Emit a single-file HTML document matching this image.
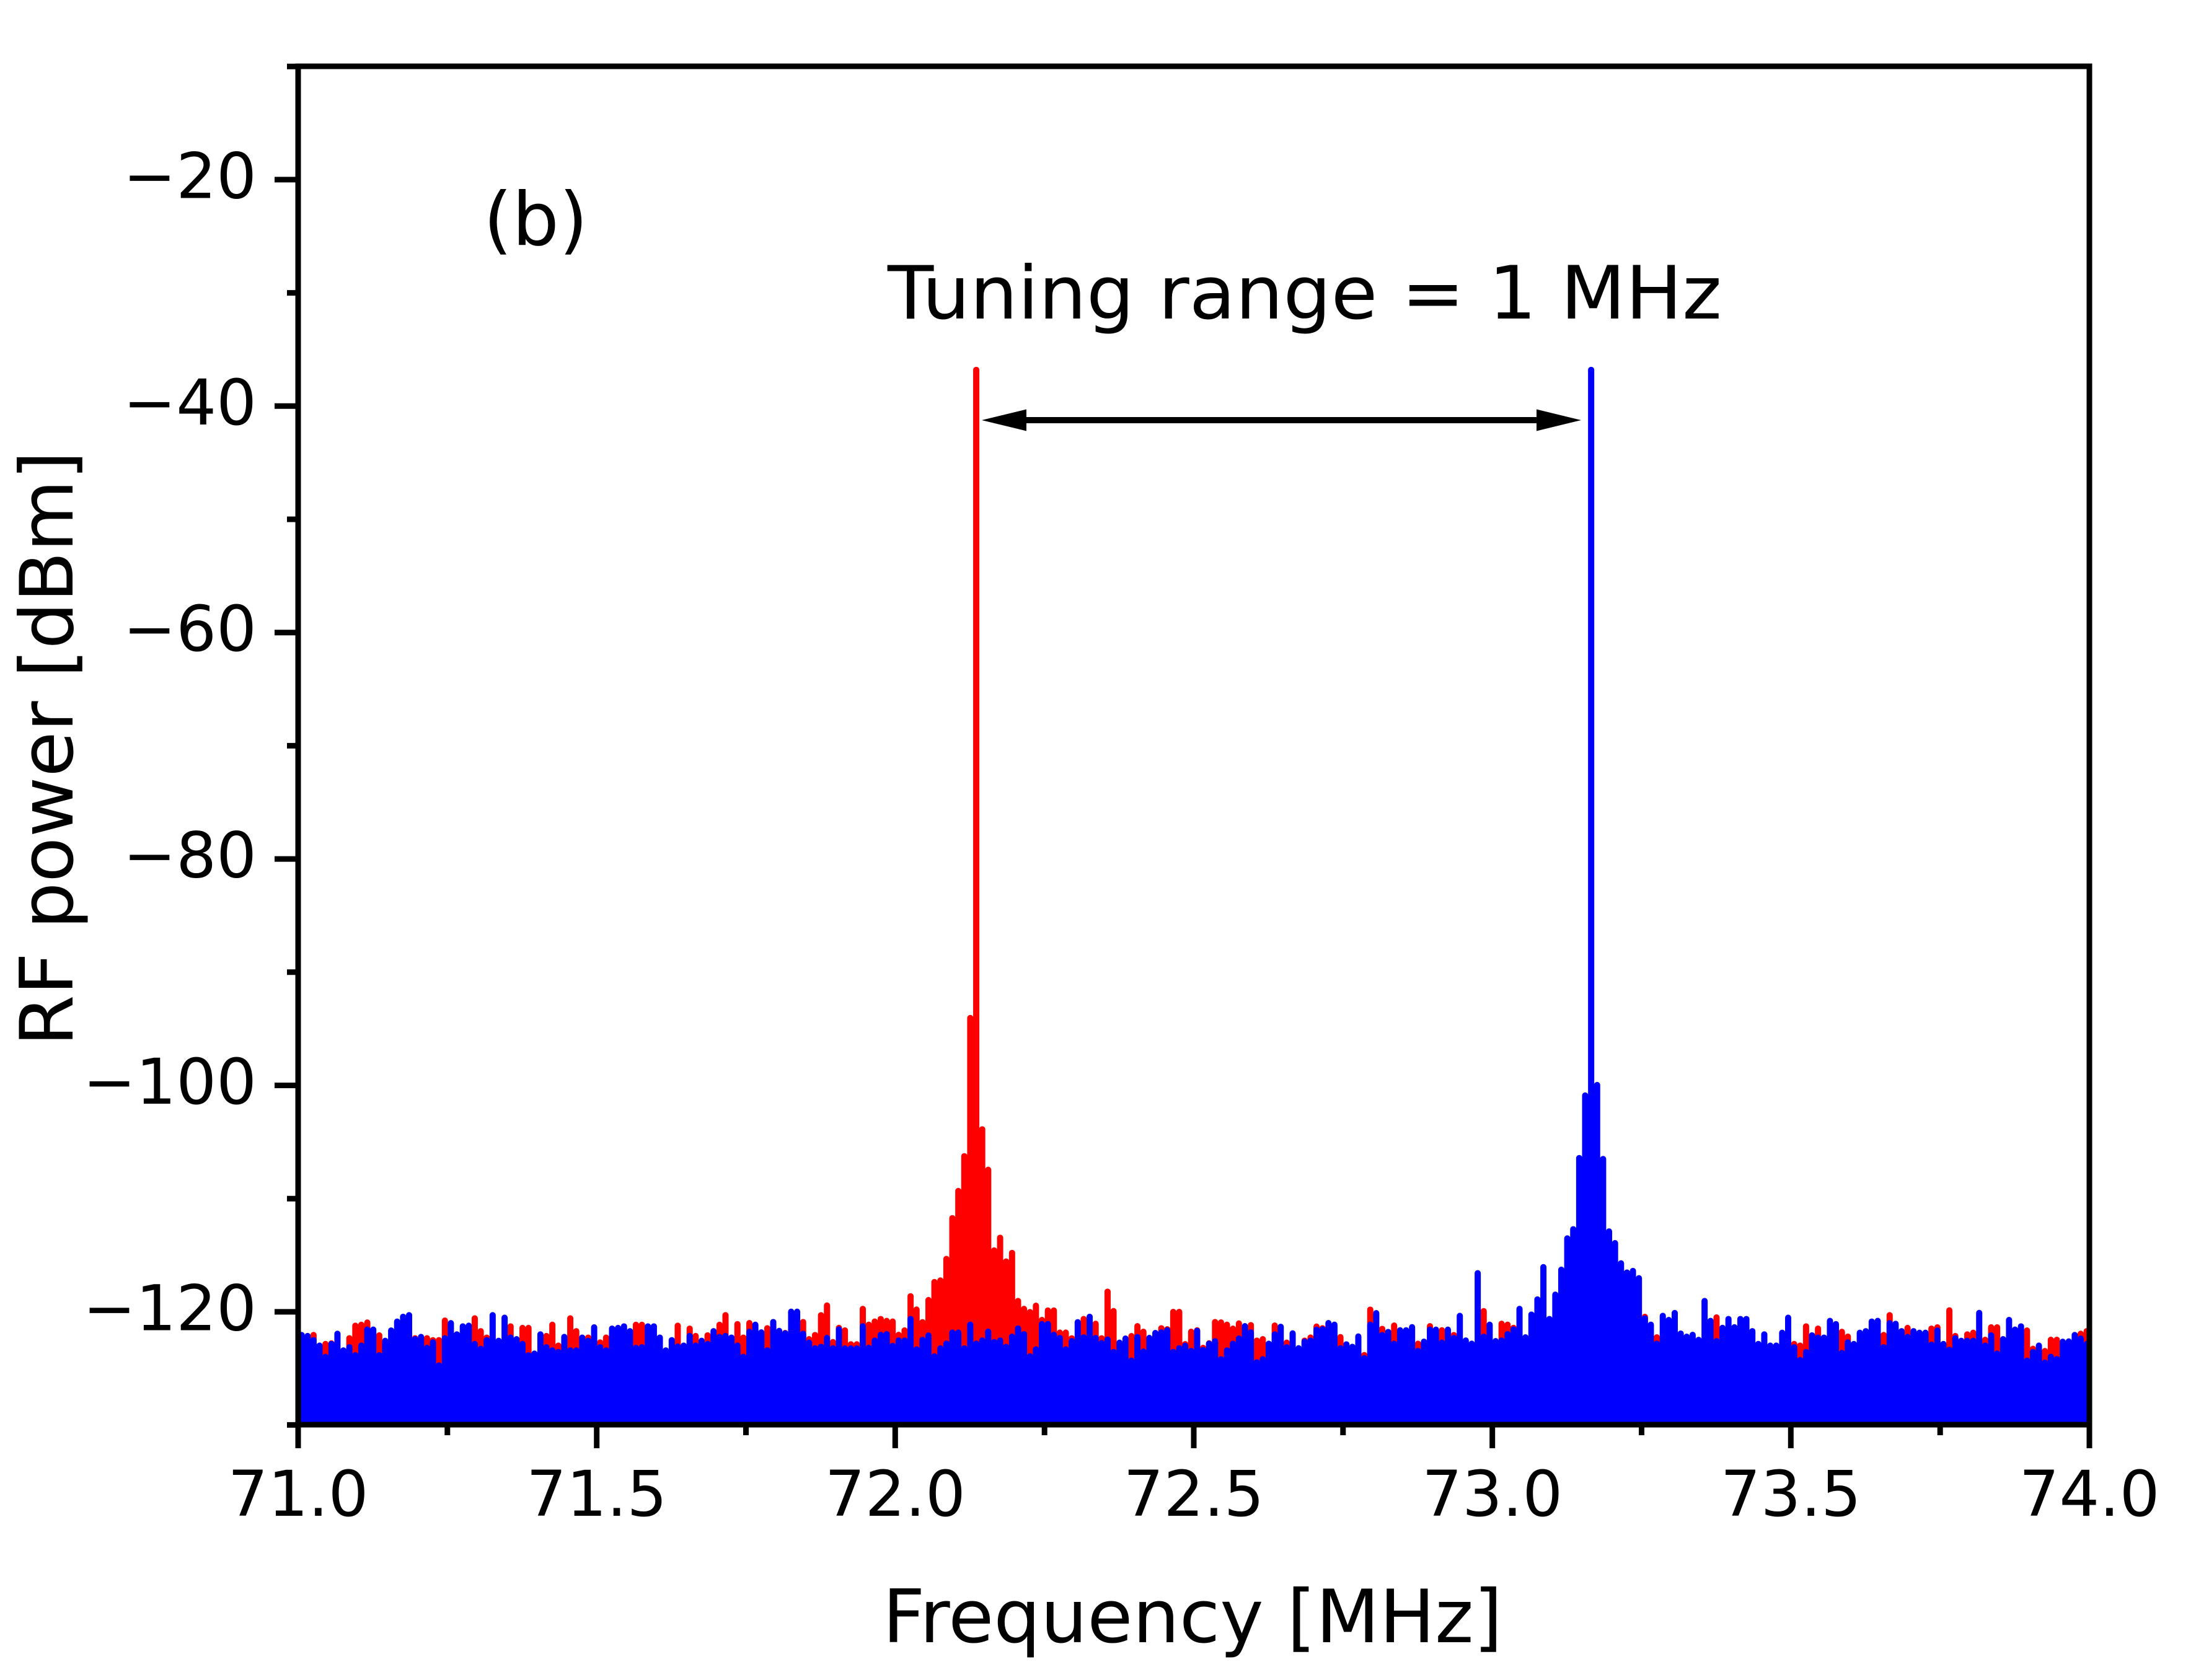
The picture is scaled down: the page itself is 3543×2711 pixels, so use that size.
<!DOCTYPE html>
<html><head><meta charset="utf-8"><style>html,body{margin:0;padding:0;background:#fff;}svg{display:block}</style></head>
<body>
<svg width="3543" height="2711" viewBox="0 0 3543 2711" xmlns="http://www.w3.org/2000/svg">
<rect width="3543" height="2711" fill="#fff"/>
<defs><clipPath id="pc"><rect x="481" y="107" width="2890" height="2192"/></clipPath></defs>
<g clip-path="url(#pc)" fill="none" stroke-linecap="round" stroke-linejoin="round">
 <g stroke="#ff0000">
  <path vector-effect="non-scaling-stroke" stroke-width="10" transform="translate(477 1905) scale(9.632 0.51722)" d="M3 900V482M5 900V510M6 900V508M9 900V492M10 900V453M11 900V450M12 900V443M14 900V483M20 900V492M22 900V492M23 900V498M24 900V498M25 900V437M30 900V430M31 900V470M32 900V490M36 900V455M38 900V460M39 900V460M42 900V485M43 900V450M44 900V515M46 900V430M47 900V470M49 900V490M51 900V505M52 900V490M57 900V450M58 900V450M64 900V453M66 900V462M67 900V485M69 900V483M71 900V450M72 900V420M74 900V448M75 900V490"/>
  <path vector-effect="non-scaling-stroke" stroke-width="10" transform="translate(477 2025) scale(9.632 0.333333)" d="M76 1000V330M79 1000V355M82 1000V378M85 1000V325M86 1000V408M87 1000V388M88 1000V292M89 1000V245M90 1000V422"/>
  <path vector-effect="non-scaling-stroke" stroke-width="10" transform="translate(477 1505) scale(9.632 0.510204)" d="M91 1700V1250M92 1700V1258M93 1700V1302M94 1700V1302M95 1700V1190M96 1700V1240M97 1700V1230M98 1700V1222M99 1700V1228M100 1700V1230M101 1700V1272M102 1700V1258M103 1700V1150M104 1700V1192M105 1700V1232M106 1700V1162M107 1700V1105M108 1700V1100M109 1700V1032M110 1700V903M111 1700V817M112 1700V707M113 1700V270M114 1700V-1780M115 1700V622M116 1700V750M117 1700V1005M118 1700V965M119 1700V1040M120 1700V1013M121 1700V1165M122 1700V1190M123 1700V1200M124 1700V1180M125 1700V1225M126 1700V1195M127 1700V1195M128 1700V1265M129 1700V1265M130 1700V1283M132 1700V1222M134 1700V1237M135 1700V1283"/>
  <path vector-effect="non-scaling-stroke" stroke-width="10" transform="translate(477 2025) scale(9.632 0.333333)" d="M136 1000V178M137 1000V272M140 1000V393M141 1000V345M142 1000V372M145 1000V355M146 1000V360M147 1000V276M148 1000V276M149 1000V432M150 1000V372M151 1000V365M152 1000V450M153 1000V428M154 1000V325M155 1000V327M156 1000V338M157 1000V357M158 1000V332M160 1000V340M161 1000V415M162 1000V408M164 1000V342M166 1000V425M169 1000V415M170 1000V400M171 1000V347M172 1000V355M175 1000V398M179 1000V485M180 1000V265M182 1000V358M184 1000V342M188 1000V430M190 1000V345M192 1000V365M194 1000V388"/>
  <path vector-effect="non-scaling-stroke" stroke-width="10" transform="translate(477 1505) scale(9.632 0.510204)" d="M199 1700V1197M202 1700V1237M203 1700V1240M204 1700V1250M226 1700V1215M228 1700V1280M238 1700V1217"/>
  <path vector-effect="non-scaling-stroke" stroke-width="10" transform="translate(477 1905) scale(9.632 0.51722)" d="M251 900V510M252 900V515M253 900V455M255 900V462M259 900V472M260 900V487M266 900V482M267 900V420M270 900V460M274 900V462M275 900V458M277 900V405M278 900V485M280 900V480M281 900V475M283 900V497M284 900V458M285 900V458M290 900V468M291 900V525M293 900V532M294 900V497M295 900V497M299 900V478M300 900V470"/>
 </g>
 <g stroke="#0000ff">
  <path vector-effect="non-scaling-stroke" stroke-width="10" transform="translate(477 1905) scale(9.632 0.51722)" d="M0 900V482M1 900V482M2 900V485M3 900V498M4 900V515M5 900V550M6 900V510M7 900V478M8 900V530M9 900V520M10 900V545M11 900V515M12 900V465M13 900V465M14 900V545M15 900V500M16 900V468M17 900V440M18 900V425M19 900V420M20 900V495M21 900V488M22 900V522M23 900V505M24 900V577M25 900V492M26 900V445M27 900V480M28 900V455M29 900V453M30 900V510M31 900V525M32 900V498M33 900V420M34 900V500M35 900V428M36 900V490M37 900V495M38 900V510M39 900V545M40 900V540M41 900V480M42 900V520M43 900V530M44 900V535M45 900V488M46 900V530M47 900V530M48 900V490M49 900V500M50 900V458M51 900V520M52 900V530M53 900V462M54 900V460M55 900V455M56 900V470M57 900V522M58 900V520M59 900V455M60 900V455M61 900V490M62 900V530M63 900V498M64 900V518M65 900V515M66 900V485M67 900V515M68 900V500M69 900V510M70 900V470M71 900V488M72 900V485M73 900V490M74 900V515M75 900V550"/>
  <path vector-effect="non-scaling-stroke" stroke-width="10" transform="translate(477 2025) scale(9.632 0.333333)" d="M76 1000V372M77 1000V338M78 1000V375M79 1000V462M80 1000V325M81 1000V368M82 1000V380M83 1000V275M84 1000V275M85 1000V382M86 1000V425M87 1000V452M88 1000V445M89 1000V402M90 1000V452"/>
  <path vector-effect="non-scaling-stroke" stroke-width="10" transform="translate(477 1505) scale(9.632 0.510204)" d="M91 1700V1255M92 1700V1315M93 1700V1315M94 1700V1315M95 1700V1245M96 1700V1313M97 1700V1290M98 1700V1272M99 1700V1270M100 1700V1307M101 1700V1290M102 1700V1290M103 1700V1222M104 1700V1318M105 1700V1288M106 1700V1274M107 1700V1340M108 1700V1315M109 1700V1300M110 1700V1265M111 1700V1265M112 1700V1315M113 1700V1240M114 1700V1300M115 1700V1290M116 1700V1262M117 1700V1295M118 1700V1290M119 1700V1310M120 1700V1278M121 1700V1252M122 1700V1270M123 1700V1340M124 1700V1318M125 1700V1238M126 1700V1238M127 1700V1272M128 1700V1282M129 1700V1318M130 1700V1292M131 1700V1232M132 1700V1280M133 1700V1215M134 1700V1282M135 1700V1298"/>
  <path vector-effect="non-scaling-stroke" stroke-width="10" transform="translate(477 2025) scale(9.632 0.333333)" d="M136 1000V410M137 1000V470M138 1000V425M139 1000V405M140 1000V512M141 1000V398M142 1000V468M143 1000V402M144 1000V378M145 1000V375M146 1000V365M147 1000V470M148 1000V452M149 1000V440M150 1000V465M151 1000V368M152 1000V460M153 1000V430M154 1000V418M155 1000V505M156 1000V462M157 1000V430M158 1000V405M159 1000V345M160 1000V375M161 1000V520M162 1000V505M163 1000V430M164 1000V385M165 1000V348M166 1000V447M167 1000V380M168 1000V452M169 1000V420M170 1000V415M171 1000V362M172 1000V360M173 1000V330M174 1000V338M175 1000V452M176 1000V433M177 1000V445M178 1000V395M179 1000V500M180 1000V338M181 1000V282M182 1000V388M183 1000V373M184 1000V430M185 1000V365M186 1000V365M187 1000V350M188 1000V465M189 1000V420M190 1000V362M191 1000V362M192 1000V425M193 1000V362M194 1000V402"/>
  <path vector-effect="non-scaling-stroke" stroke-width="10" transform="translate(477 1505) scale(9.632 0.510204)" d="M195 1700V1212M196 1700V1290M197 1700V1300M198 1700V1077M199 1700V1278M200 1700V1240M201 1700V1292M202 1700V1290M203 1700V1270M204 1700V1255M205 1700V1190M206 1700V1280M207 1700V1208M208 1700V1160M209 1700V1058M210 1700V1222M211 1700V1145M212 1700V1066M213 1700V967M214 1700V938M215 1700V713M216 1700V515M217 1700V-1780M218 1700V482M219 1700V716M220 1700V945M221 1700V982M222 1700V1046M223 1700V1075M224 1700V1070M225 1700V1093M226 1700V1220M227 1700V1240M228 1700V1300M229 1700V1212M230 1700V1225M231 1700V1203M232 1700V1268M233 1700V1278M234 1700V1272M235 1700V1288M236 1700V1165M237 1700V1228M238 1700V1292M239 1700V1250M240 1700V1222M241 1700V1248"/>
  <path vector-effect="non-scaling-stroke" stroke-width="10" transform="translate(477 1905) scale(9.632 0.51722)" d="M242 900V432M243 900V432M244 900V470M245 900V510M246 900V480M247 900V515M248 900V515M249 900V475M250 900V428M251 900V520M252 900V560M253 900V535M254 900V483M255 900V490M256 900V490M257 900V438M258 900V448M259 900V538M260 900V505M261 900V510M262 900V475M263 900V470M264 900V440M265 900V438M266 900V520M267 900V445M268 900V447M269 900V470M270 900V488M271 900V470M272 900V475M273 900V475M274 900V512M275 900V468M276 900V510M277 900V528M278 900V492M279 900V500M280 900V500M281 900V500M282 900V413M283 900V515M284 900V483M285 900V540M286 900V495M287 900V435M288 900V465M289 900V455M290 900V562M291 900V535M292 900V515M293 900V568M294 900V550M295 900V557M296 900V503M297 900V502M298 900V482M299 900V493M300 900V510"/>
 </g>
</g>
<!-- axes -->
<g stroke="#000" stroke-width="9" fill="none">
 <rect x="481" y="107" width="2890" height="2192"/>
 <path d="M443 289.9H481M443 655.3H481M443 1020.7H481M443 1386.1H481M443 1751.5H481M443 2116.9H481"/>
 <path d="M463 107.2H481M463 472.6H481M463 838H481M463 1203.4H481M463 1568.8H481M463 1934.2H481M463 2299.4H481"/>
 <path d="M481 2299V2337M962.7 2299V2337M1444.3 2299V2337M1926 2299V2337M2407.7 2299V2337M2889.3 2299V2337M3371 2299V2337"/>
 <path d="M721.8 2299V2316M1203.5 2299V2316M1685.2 2299V2316M2166.8 2299V2316M2648.5 2299V2316M3130.2 2299V2316"/>
</g>
<!-- arrow -->
<g fill="#000" stroke="none">
 <rect x="1650" y="673" width="835" height="10"/>
 <polygon points="1584,678 1656,660.5 1656,695.5"/>
 <polygon points="2551,678 2479,660.5 2479,695.5"/>
</g>
<!-- text -->
<g font-family="'DejaVu Sans', Verdana, 'Liberation Sans', sans-serif" fill="#000">
 <g font-size="102" text-anchor="end">
  <text x="414" y="319.4">−20</text>
  <text x="414" y="684.8">−40</text>
  <text x="414" y="1050.2">−60</text>
  <text x="414" y="1415.6">−80</text>
  <text x="414" y="1781">−100</text>
  <text x="414" y="2146.4">−120</text>
 </g>
 <g font-size="102" text-anchor="middle">
  <text x="481" y="2446">71.0</text>
  <text x="962.7" y="2446">71.5</text>
  <text x="1444.3" y="2446">72.0</text>
  <text x="1926" y="2446">72.5</text>
  <text x="2407.7" y="2446">73.0</text>
  <text x="2889.3" y="2446">73.5</text>
  <text x="3371" y="2446">74.0</text>
 </g>
 <text x="1924" y="2650" font-size="119" text-anchor="middle">Frequency [MHz]</text>
 <text transform="translate(117 1208) rotate(-90)" font-size="119" text-anchor="middle">RF power [dBm]</text>
 <text x="780" y="395" font-size="119">(b)</text>
 <text x="1432" y="514" font-size="119" textLength="1346" lengthAdjust="spacingAndGlyphs">Tuning range = 1 MHz</text>
</g>
</svg>
</body></html>
